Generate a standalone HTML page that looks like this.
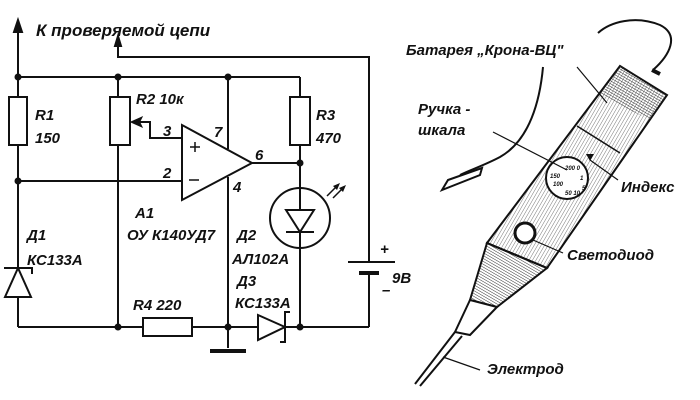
<!DOCTYPE html>
<html><head><meta charset="utf-8"><style>
html,body{margin:0;padding:0;background:#fff;}
svg{display:block}
text{font-family:"Liberation Sans","DejaVu Sans",sans-serif;font-style:italic;font-weight:bold;fill:#111}
</style></head><body>
<svg width="700" height="400" viewBox="0 0 700 400" xmlns="http://www.w3.org/2000/svg">
<defs>
<pattern id="h" width="3" height="3" patternUnits="userSpaceOnUse" patternTransform="rotate(30)">
<line x1="0" y1="0" x2="0" y2="3" stroke="#555" stroke-width="0.8"/>
</pattern>
<pattern id="h2" width="2.5" height="2.5" patternUnits="userSpaceOnUse" patternTransform="rotate(-60)">
<line x1="0" y1="0" x2="0" y2="2.5" stroke="#333" stroke-width="1"/>
</pattern>
</defs>
<g stroke="#111" stroke-width="2" fill="none">
<!-- left rail -->
<line x1="18" y1="24" x2="18" y2="97"/>
<polygon points="18,20 14,32 22,32" fill="#111"/>
<line x1="18" y1="77" x2="300" y2="77"/>
<rect x="9" y="97" width="18" height="48"/>
<line x1="18" y1="145" x2="18" y2="268"/>
<line x1="18" y1="297" x2="18" y2="327"/>
<!-- D1 zener -->
<polygon points="18,268 5,297 31,297"/>
<polyline points="4,268 32,268 32,274"/>
<!-- second probe wire -->
<polyline points="118,40 118,57 369,57 369,262"/>
<polygon points="118,36 115,46 121,46" fill="#111"/>
<line x1="369" y1="273" x2="369" y2="327"/>
<line x1="348" y1="262" x2="395" y2="262"/>
<line x1="359" y1="273" x2="379" y2="273" stroke-width="4"/>
<!-- bottom rail -->
<line x1="18" y1="327" x2="143" y2="327"/>
<line x1="192" y1="327" x2="258" y2="327"/>
<line x1="285" y1="327" x2="369" y2="327"/>
<rect x="143" y="318" width="49" height="18"/>
<!-- D3 -->
<polygon points="258,315 258,340 285,327"/>
<polyline points="290,312 285,312 285,342 280,342"/>
<!-- R2 -->
<line x1="118" y1="77" x2="118" y2="97"/>
<rect x="110" y="97" width="20" height="48"/>
<line x1="118" y1="145" x2="118" y2="327"/>
<polyline points="137,122 150,122 150,138 182,138"/>
<polygon points="132,122 141,118 139,122 141,126" fill="#111"/>
<!-- minus input -->
<line x1="18" y1="181" x2="182" y2="181"/>
<!-- opamp -->
<polygon points="182,125 182,200 252,163"/>
<line x1="190" y1="147" x2="200" y2="147" stroke-width="1.5"/>
<line x1="195" y1="142" x2="195" y2="152" stroke-width="1.5"/>
<line x1="189" y1="180" x2="199" y2="180" stroke-width="1.5"/>
<line x1="228" y1="77" x2="228" y2="149"/>
<line x1="228" y1="177" x2="228" y2="348"/>
<line x1="210" y1="351" x2="246" y2="351" stroke-width="4"/>
<line x1="252" y1="163" x2="300" y2="163"/>
<!-- R3 & LED -->
<line x1="300" y1="77" x2="300" y2="97"/>
<rect x="290" y="97" width="20" height="48"/>
<line x1="300" y1="145" x2="300" y2="327"/>
<circle cx="300" cy="218" r="30"/>
<polygon points="286,210 314,210 300,232" fill="#fff"/>
<line x1="286" y1="232" x2="314" y2="232"/>
<line x1="327" y1="196" x2="337" y2="186" stroke-width="1.5"/>
<line x1="333" y1="198" x2="343" y2="188" stroke-width="1.5"/>
</g>
<g fill="#111">
<circle cx="18" cy="77" r="3.5"/><circle cx="118" cy="77" r="3.5"/><circle cx="228" cy="77" r="3.5"/>
<circle cx="18" cy="181" r="3.5"/><circle cx="300" cy="163" r="3.5"/>
<circle cx="118" cy="327" r="3.5"/><circle cx="228" cy="327" r="3.5"/><circle cx="300" cy="327" r="3.5"/>
<polygon points="340,183 333,186 337,190"/><polygon points="346,185 339,188 343,192"/>
</g>
<g font-size="17">
<text x="36" y="36">К проверяемой цепи</text>
</g>
<g font-size="15">
<text x="35" y="120">R1</text><text x="35" y="143">150</text>
<text x="136" y="104">R2 10к</text>
<text x="316" y="120">R3</text><text x="316" y="143">470</text>
<text x="163" y="136">3</text><text x="214" y="137">7</text>
<text x="163" y="178">2</text><text x="255" y="160">6</text><text x="233" y="192">4</text>
<text x="135" y="218">A1</text><text x="127" y="240">ОУ К140УД7</text>
<text x="27" y="240">Д1</text><text x="27" y="265">КС133А</text>
<text x="237" y="240">Д2</text><text x="232" y="264">АЛ102А</text>
<text x="237" y="286">Д3</text><text x="235" y="308">КС133А</text>
<text x="133" y="310">R4 220</text>
<text x="380" y="254">+</text><text x="382" y="295">–</text><text x="392" y="283">9В</text>
</g>
<!-- pen -->
<g stroke="#111" stroke-width="2">
<path d="M653,70 C670,55 680,35 660,25 C635,15 610,22 598,33" fill="none"/>
<path d="M543,67 C540,100 530,140 500,157 C485,165 470,170 460,175" fill="none"/>
<polygon points="442,190 448,180 482,168 480,175" fill="#fff"/>
<polygon points="620,66 667,95 547,268 487,243" fill="url(#h)"/>
<polygon points="620,66 667,95 650,120 600,95" fill="url(#h2)" stroke="none"/>
<line x1="577" y1="126" x2="620" y2="153" stroke-width="1.5"/>
<polygon points="487,243 547,268 497,307 470,300" fill="url(#h2)"/>
<line x1="487" y1="243" x2="547" y2="268"/>
<polygon points="470,300 497,307 470,335 455,332" fill="#fff"/>
<line x1="455" y1="332" x2="415" y2="384"/>
<line x1="462" y1="336" x2="420" y2="386"/>
<line x1="652" y1="70" x2="660" y2="74" stroke-width="4"/>
<circle cx="567" cy="178" r="21" fill="#fff"/>
<circle cx="525" cy="233" r="10" fill="#fff" stroke-width="3"/>
<polygon points="586,154 594,154 590,161" fill="#111" stroke="none"/>
<g stroke-width="1.2">
<line x1="577" y1="67" x2="607" y2="103"/>
<line x1="493" y1="132" x2="567" y2="170"/>
<line x1="590" y1="160" x2="618" y2="180"/>
<line x1="533" y1="240" x2="563" y2="253"/>
<line x1="443" y1="357" x2="480" y2="370"/>
</g>
</g>
<g font-size="6" font-style="normal">
<text x="565" y="170">200 0</text><text x="550" y="178">150</text><text x="580" y="180">1</text>
<text x="553" y="186">100</text><text x="582" y="190">5</text><text x="565" y="195">50 10</text>
</g>
<g font-size="15">
<text x="406" y="55">Батарея „Крона-ВЦ"</text>
<text x="418" y="114">Ручка -</text>
<text x="418" y="135">шкала</text>
<text x="621" y="192">Индекс</text>
<text x="567" y="260">Светодиод</text>
<text x="487" y="374">Электрод</text>
</g>
</svg>
</body></html>
